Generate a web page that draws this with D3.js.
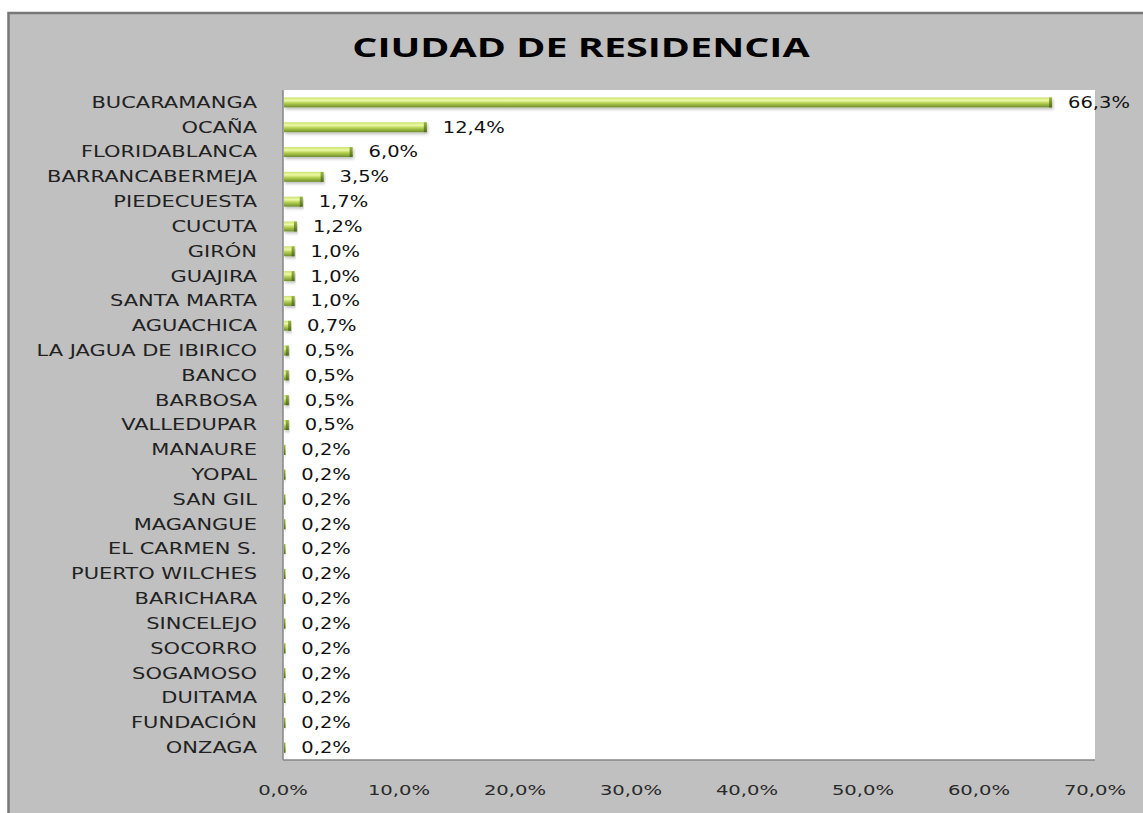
<!DOCTYPE html>
<html><head><meta charset="utf-8">
<script src="https://cdn.jsdelivr.net/npm/d3@7"></script>
<style>body{margin:0;background:#fff;}svg{display:block;}</style>
</head><body>
<svg id="chart" width="1143" height="813"></svg>
<script>
const title = "CIUDAD DE RESIDENCIA";
const categories = ["BUCARAMANGA","OCAÑA","FLORIDABLANCA","BARRANCABERMEJA","PIEDECUESTA","CUCUTA","GIRÓN","GUAJIRA","SANTA MARTA","AGUACHICA","LA JAGUA DE IBIRICO","BANCO","BARBOSA","VALLEDUPAR","MANAURE","YOPAL","SAN GIL","MAGANGUE","EL CARMEN S.","PUERTO WILCHES","BARICHARA","SINCELEJO","SOCORRO","SOGAMOSO","DUITAMA","FUNDACIÓN","ONZAGA"];
const values = [66.3,12.4,6.0,3.5,1.7,1.2,1.0,1.0,1.0,0.7,0.5,0.5,0.5,0.5,0.2,0.2,0.2,0.2,0.2,0.2,0.2,0.2,0.2,0.2,0.2,0.2,0.2];
const xTicks = [0,10,20,30,40,50,60,70];

const fmt = v => v.toFixed(1).replace(".", ",") + "%";
const svg = d3.select("#chart");

// background & frame
svg.append("rect").attr("x",0).attr("y",0).attr("width",1143).attr("height",813).attr("fill","#ffffff");
svg.append("rect").attr("x",8.5).attr("y",13).attr("width",1143).attr("height",813)
  .attr("fill","#c0c0c0").attr("stroke","#777777").attr("stroke-width",2.5);

const plot = {left:283, right:1095, top:90, bottom:760};
svg.append("rect").attr("x",plot.left).attr("y",plot.top)
  .attr("width",plot.right-plot.left).attr("height",plot.bottom-plot.top).attr("fill","#ffffff");

const x = d3.scaleLinear().domain([0,70]).range([plot.left, plot.right]);
const y = d3.scaleBand().domain(categories).range([plot.top, plot.bottom]).paddingInner(0.6).paddingOuter(0.3);

// gradients
const defs = svg.append("defs");
const g1 = defs.append("linearGradient").attr("id","barGrad").attr("x1",0).attr("y1",0).attr("x2",0).attr("y2",1);
[[0,"#c9e26a"],[0.3,"#eef9a8"],[0.55,"#b9d555"],[1,"#6f8d2b"]].forEach(s=>g1.append("stop").attr("offset",s[0]).attr("stop-color",s[1]));
const g2 = defs.append("linearGradient").attr("id","capGrad").attr("x1",0).attr("y1",0).attr("x2",0).attr("y2",1);
[[0,"#9ab842"],[1,"#4e6a1c"]].forEach(s=>g2.append("stop").attr("offset",s[0]).attr("stop-color",s[1]));
const f = defs.append("filter").attr("id","shadow").attr("x","-5%").attr("y","-50%").attr("width","110%").attr("height","250%");
f.append("feDropShadow").attr("dx",1).attr("dy",2).attr("stdDeviation",1.5).attr("flood-color","#000").attr("flood-opacity",0.25);

// bars
const bars = svg.append("g").selectAll("g").data(categories).join("g").attr("filter","url(#shadow)");
bars.append("rect")
  .attr("x", x(0)+1).attr("y", d=>y(d))
  .attr("width", (d,i)=>Math.max(1.5, x(values[i])-x(0)-1))
  .attr("height", y.bandwidth()).attr("fill","url(#barGrad)");
bars.append("rect")
  .attr("x", (d,i)=>Math.max(x(0)+1, x(values[i])-3)).attr("y", d=>y(d))
  .attr("width", (d,i)=>Math.min(3, Math.max(1, x(values[i])-x(0)-1)))
  .attr("height", y.bandwidth()).attr("fill","url(#capGrad)");

// axis lines
svg.append("line").attr("x1",plot.left).attr("x2",plot.left).attr("y1",plot.top).attr("y2",plot.bottom)
  .attr("stroke","#868686").attr("stroke-width",1.5);
svg.append("line").attr("x1",plot.left).attr("x2",plot.right).attr("y1",plot.bottom).attr("y2",plot.bottom)
  .attr("stroke","#868686").attr("stroke-width",1.5);

const font = "'DejaVu Sans', sans-serif";
// category labels (horizontally stretched like the reference)
svg.append("g").selectAll("text").data(categories).join("text")
  .attr("transform", d=>`translate(257,${y(d)+y.bandwidth()/2}) scale(1.4,1)`).attr("dy","0.36em")
  .attr("text-anchor","end").attr("font-family",font).attr("font-size",15)
  .attr("fill","#222").text(d=>d);

// value labels
svg.append("g").selectAll("text").data(categories).join("text")
  .attr("transform", (d,i)=>`translate(${x(values[i])+16},${y(d)+y.bandwidth()/2}) scale(1.3,1)`).attr("dy","0.36em")
  .attr("font-family",font).attr("font-size",15)
  .attr("fill","#111").text((d,i)=>fmt(values[i]));

// x tick labels
svg.append("g").selectAll("text").data(xTicks).join("text")
  .attr("transform", d=>`translate(${x(d)},790) scale(1.4,1)`).attr("dy","0.36em").attr("text-anchor","middle")
  .attr("font-family",font).attr("font-size",14)
  .attr("fill","#2a2a2a").text(d=>fmt(d));

// title
svg.append("text").attr("transform","translate(581,57) scale(1.49,1)").attr("text-anchor","middle")
  .attr("font-family","'Open Sans', sans-serif").attr("font-weight","bold").attr("font-size",26.5)
  .attr("fill","#000").text(title);
</script>
</body></html>
